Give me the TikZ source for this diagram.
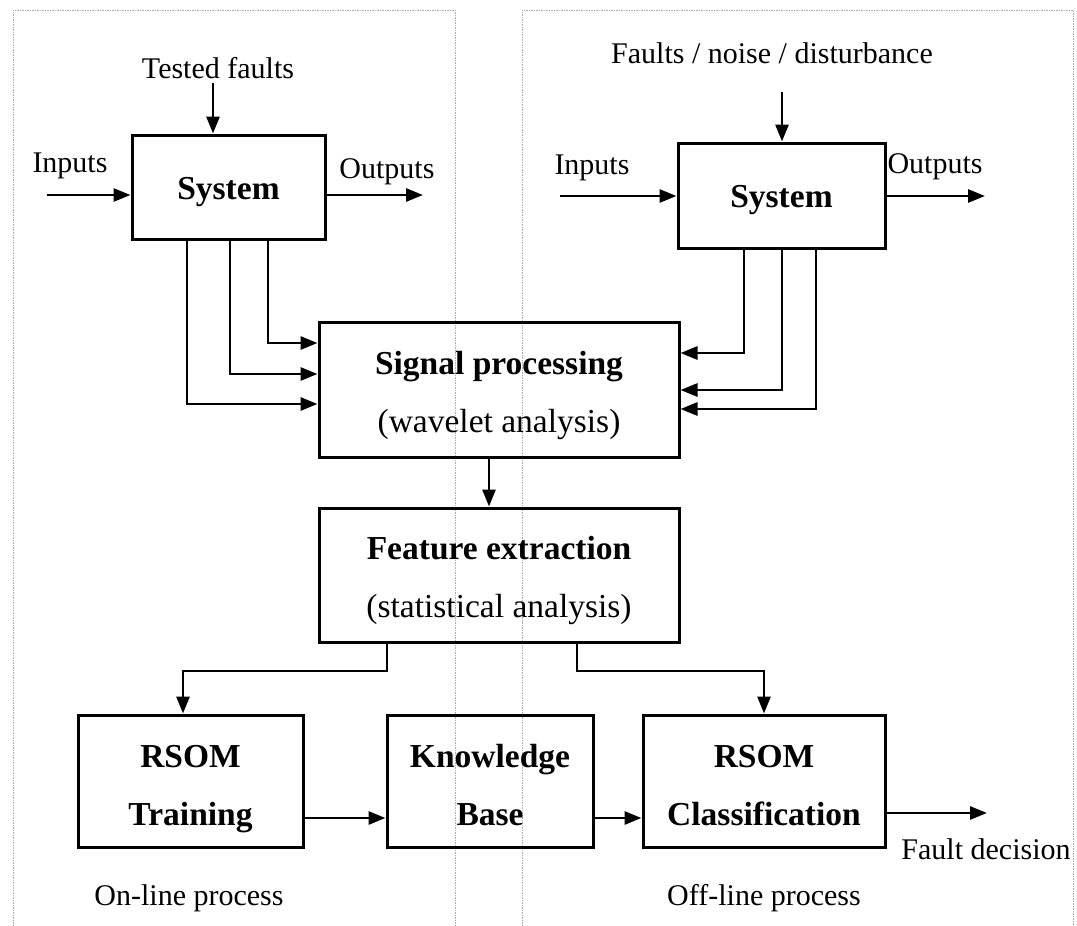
\documentclass[tikz,border=0pt]{standalone}
\usepackage{fontspec}
\setmainfont{Liberation Serif}
\usetikzlibrary{arrows.meta}
\newcommand\boxfont{\fontsize{33.5}{58}\selectfont}
\newcommand\lblfont{\fontsize{30}{36}\selectfont}
\newcommand\ustr[1]{\rule{0pt}{#1pt}}
\newcommand\dstr{\rule[-8pt]{0pt}{1pt}}
\tikzset{
  box/.style={draw, line width=3pt, inner sep=0pt, align=center, font=\boxfont},
  lbl/.style={inner sep=0pt, font=\lblfont},
  arr/.style={line width=2.8pt, -{Triangle[length=17pt,width=13pt]}},
  region/.style={draw=gray!65, line width=0.8pt, dash pattern=on 1.5pt off 1pt}
}
\begin{document}
\begin{tikzpicture}[x=1pt,y=-1pt]
\useasboundingbox (0,0) rectangle (1077,926);
% regions
\coordinate (rl1) at (13,926); \coordinate (rl2) at (13,10);
\coordinate (rl3) at (455,10); \coordinate (rl4) at (455,926);
\draw[region] (rl1) -- (rl2) -- (rl3) -- (rl4);
\coordinate (rr1) at (522,926); \coordinate (rr2) at (522,10);
\coordinate (rr3) at (1073,10); \coordinate (rr4) at (1073,926);
\draw[region] (rr1) -- (rr2) -- (rr3) -- (rr4);

% boxes
\node[box, minimum width=193pt, minimum height=104pt] (sysL) at (228.5,187) {\ustr{32}\textbf{System}\dstr};
\node[box, minimum width=207pt, minimum height=105pt] (sysR) at (781.5,195.5) {\ustr{32}\textbf{System}\dstr};
\node[box, minimum width=360pt, minimum height=135pt] (sig) at (499,389.5) {\ustr{35}\textbf{Signal processing}\\(wavelet analysis)\dstr};
\node[box, minimum width=360pt, minimum height=134pt] (feat) at (499,575) {\ustr{34}\textbf{Feature extraction}\\(statistical analysis)\dstr};
\node[box, minimum width=225pt, minimum height=132pt] (train) at (190.5,781) {\ustr{38}\textbf{RSOM}\\\textbf{Training}\dstr};
\node[box, minimum width=206pt, minimum height=132pt] (kb) at (490,781) {\ustr{38}\textbf{Knowledge}\\\textbf{Base}\dstr};
\node[box, minimum width=242pt, minimum height=132pt] (cls) at (764,781) {\ustr{38}\textbf{RSOM}\\\textbf{Classification}\dstr};

% labels
\node[lbl] (tfl) at (218,68) {Tested faults};
\node[lbl] (inLl) at (70,166) {Inputs};
\node[lbl] (outLl) at (387,172) {Outputs};
\node[lbl] (fnd) at (772,53) {Faults / noise / disturbance};
\node[lbl] (inRl) at (592,168) {Inputs};
\node[lbl] (outRl) at (935,167) {Outputs};
\node[lbl] (fdl) at (986,849) {Fault decision};
\node[lbl] (onl) at (189,898) {On-line process};
\node[lbl] (offl) at (764,898) {Off-line process};

% left system connectors
\coordinate (tfa) at (213,83);
\draw[arr] (tfa) -- (tfa |- sysL.north);
\coordinate (inLa) at (47,195);
\draw[arr] (inLa) -- (inLa -| sysL.west);
\coordinate (outLb) at (423,195);
\draw[arr] (outLb -| sysL.east) -- (outLb);

% right system connectors
\coordinate (fna) at (782,92);
\draw[arr] (fna) -- (fna |- sysR.north);
\coordinate (inRa) at (560,196);
\draw[arr] (inRa) -- (inRa -| sysR.west);
\coordinate (outRb) at (985,196);
\draw[arr] (outRb -| sysR.east) -- (outRb);

% system -> signal
\coordinate (a1) at (268,343); \coordinate (a2) at (230,374); \coordinate (a3) at (187,404);
\draw[arr] (a1 |- sysL.south) |- (a1 -| sig.west);
\draw[arr] (a2 |- sysL.south) |- (a2 -| sig.west);
\draw[arr] (a3 |- sysL.south) |- (a3 -| sig.west);
\coordinate (b1) at (744,353); \coordinate (b2) at (782,390); \coordinate (b3) at (816,409);
\draw[arr] (b1 |- sysR.south) |- (b1 -| sig.east);
\draw[arr] (b2 |- sysR.south) |- (b2 -| sig.east);
\draw[arr] (b3 |- sysR.south) |- (b3 -| sig.east);

% signal -> feature
\coordinate (c1) at (489,480);
\draw[arr] (c1 |- sig.south) -- (c1 |- feat.north);

% feature -> RSOM boxes
\coordinate (d1) at (387,671); \coordinate (d2) at (183,671);
\draw[arr] (d1 |- feat.south) -- (d1) -- (d2) -- (d2 |- train.north);
\coordinate (e1) at (577,671); \coordinate (e2) at (764,671);
\draw[arr] (e1 |- feat.south) -- (e1) -- (e2) -- (e2 |- cls.north);

% bottom row
\coordinate (f1) at (500,818);
\draw[arr] (f1 -| train.east) -- (f1 -| kb.west);
\draw[arr] (f1 -| kb.east) -- (f1 -| cls.west);
\coordinate (g1) at (987,813);
\draw[arr] (g1 -| cls.east) -- (g1);
\end{tikzpicture}
\end{document}
